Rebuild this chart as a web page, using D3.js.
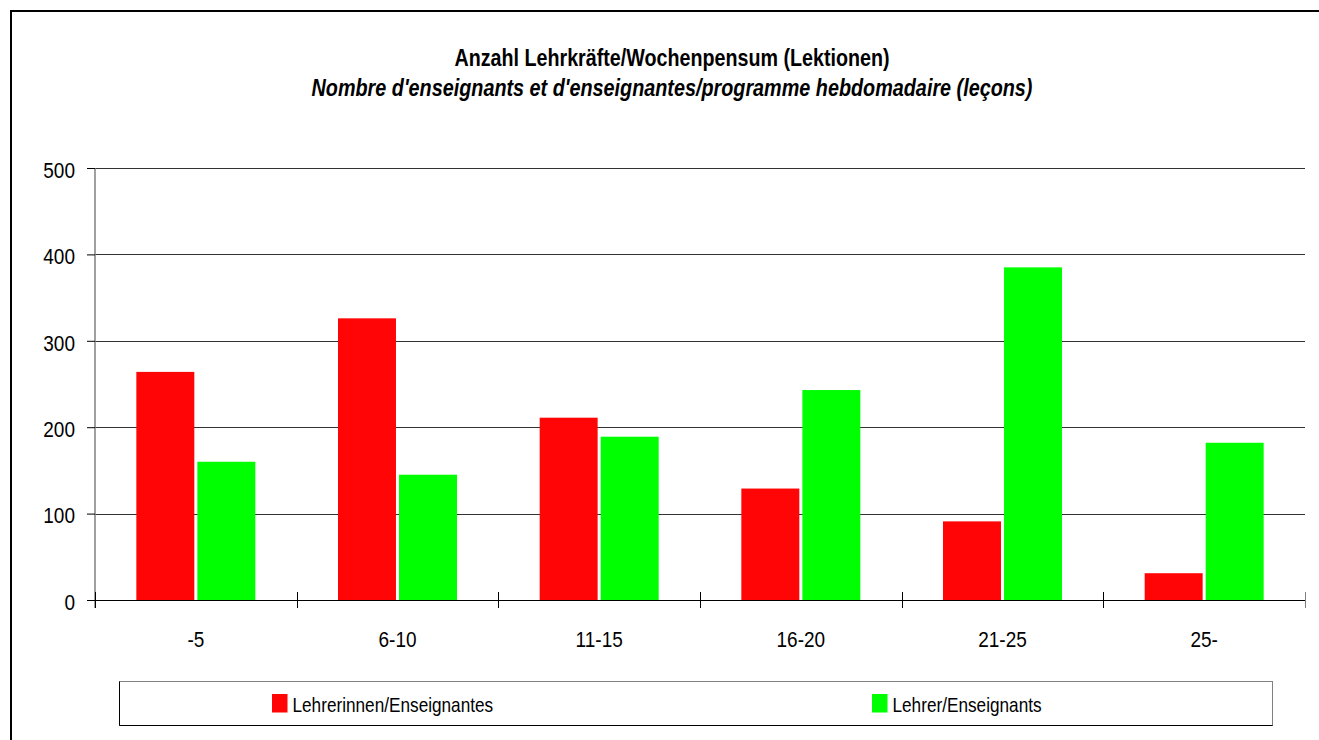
<!DOCTYPE html>
<html lang="de">
<head>
<meta charset="utf-8">
<title>Anzahl Lehrkräfte/Wochenpensum</title>
<script src="https://cdnjs.cloudflare.com/ajax/libs/d3/7.8.5/d3.min.js"></script>
<style>
  html, body { margin: 0; padding: 0; background: #fff; overflow: hidden; }
  svg { display: block; font-family: "Liberation Sans", Arial, Helvetica, sans-serif; }
</style>
</head>
<body>
<div id="chart"></div>
<script>
// data
const categories = ["-5", "6-10", "11-15", "16-20", "21-25", "25-"];
const seriesNames = ["Lehrerinnen/Enseignantes", "Lehrer/Enseignants"];
const women = [264, 326, 211, 129, 91, 31];
const men = [160, 145, 189, 243, 385, 182];
const yTicks = [0, 100, 200, 300, 400, 500];
const colors = ["#ff0505", "#00ff00"];
const title = "Anzahl Lehrkräfte/Wochenpensum (Lektionen)";
const subtitle = "Nombre d'enseignants et d'enseignantes/programme hebdomadaire (leçons)";

const W = 1319, H = 740;
const plot = {left: 95, right: 1305, top: 168, bottom: 600};
const SY = 1.2; // the original lettering is a bit taller than Arial

// put a text at (tx,ty) baseline, stretched vertically
function stretch(sel, tx, ty) {
  sel.attr("x", 0).attr("y", 0).attr("dy", null)
    .attr("transform", "translate(" + tx + "," + ty + ") scale(1," + SY + ")");
}

const svg = d3.select("#chart").append("svg")
  .attr("width", W).attr("height", H);

// outer frame, only top and left edges are in view
svg.append("path")
  .attr("d", "M11," + H + "V11H" + W)
  .attr("fill", "none").attr("stroke", "#000").attr("stroke-width", 2);

// titles
svg.append("text")
  .attr("text-anchor", "middle")
  .attr("font-weight", "bold").attr("font-size", 19.7)
  .text(title)
  .call(stretch, 672, 65.5);
svg.append("text")
  .attr("text-anchor", "middle")
  .attr("font-weight", "bold").attr("font-style", "italic").attr("font-size", 19.8)
  .text(subtitle)
  .call(stretch, 672, 95.5);

// scales
const x0 = d3.scaleBand()
  .domain(categories)
  .range([plot.left, plot.right])
  .paddingInner(0.41)
  .paddingOuter(0.205);

const x1 = d3.scaleBand()
  .domain(seriesNames)
  .range([0, x0.bandwidth()])
  .paddingInner(0.05);

const y = d3.scaleLinear()
  .domain([0, 500])
  .range([plot.bottom, plot.top]);

// gridlines
svg.append("g")
  .selectAll("line")
  .data(yTicks.filter(d => d > 0))
  .join("line")
  .attr("x1", plot.left).attr("x2", plot.right)
  .attr("y1", d => Math.round(y(d)) + 0.5).attr("y2", d => Math.round(y(d)) + 0.5)
  .attr("stroke", "#333");

// bars
const table = categories.map((c, i) => ({cat: c, values: [women[i], men[i]]}));
svg.append("g")
  .selectAll("g")
  .data(table)
  .join("g")
  .attr("transform", d => "translate(" + x0(d.cat) + ",0)")
  .selectAll("rect")
  .data(d => d.values.map((v, j) => ({name: seriesNames[j], value: v, j: j})))
  .join("rect")
  .attr("x", d => x1(d.name))
  .attr("width", x1.bandwidth())
  .attr("y", d => y(d.value))
  .attr("height", d => y(0) - y(d.value))
  .attr("fill", d => colors[d.j]);

// y axis
const yAxis = svg.append("g")
  .attr("transform", "translate(" + plot.left + ",0)")
  .call(d3.axisLeft(y).tickValues(yTicks).tickSize(8));
yAxis.select(".domain").attr("stroke", "#808080").attr("stroke-width", 1.5)
  .attr("d", "M0," + plot.top + "V" + (plot.bottom + 8));
yAxis.selectAll(".tick line").attr("stroke", "#000");
yAxis.selectAll(".tick text")
  .attr("font-size", 19).attr("fill", "#000")
  .call(stretch, -20, 9.3);

// x axis
const xAxis = svg.append("g")
  .attr("transform", "translate(0," + plot.bottom + ")")
  .call(d3.axisBottom(x0).tickSize(0));
xAxis.select(".domain").attr("stroke", "#000")
  .attr("d", "M" + (plot.left - 8) + ",0.5H" + plot.right);
xAxis.selectAll(".tick text")
  .attr("font-size", 19).attr("fill", "#000")
  .call(stretch, 0, 46.5);

// category separators
const half = (x0.step() - x0.bandwidth()) / 2;
const bounds = categories.map(c => x0(c) - half).concat([plot.right]);
xAxis.append("g")
  .selectAll("line")
  .data(bounds)
  .join("line")
  .attr("x1", d => Math.round(d) + 0.5).attr("x2", d => Math.round(d) + 0.5)
  .attr("y1", -8).attr("y2", 8)
  .attr("stroke", (d, i) => i === bounds.length - 1 ? "#808080" : "#000");

// legend
const legend = svg.append("g");
legend.append("rect")
  .attr("x", 119.5).attr("y", 681.5)
  .attr("width", 1153).attr("height", 44)
  .attr("fill", "#fff").attr("stroke", "#808080");
legend.append("path")
  .attr("d", "M119.5,681.5V725.5H1272.5")
  .attr("fill", "none").attr("stroke", "#000");
const legendX = [272, 872];
const items = legend.selectAll("g.item")
  .data(seriesNames)
  .join("g")
  .attr("class", "item")
  .attr("transform", (d, i) => "translate(" + legendX[i] + ",694)");
items.append("rect")
  .attr("width", 15.5).attr("height", 18.5)
  .attr("fill", (d, i) => colors[i]);
items.append("text")
  .attr("font-size", 17.2)
  .text(d => d)
  .call(stretch, 20.5, 17.7);
</script>
</body>
</html>
